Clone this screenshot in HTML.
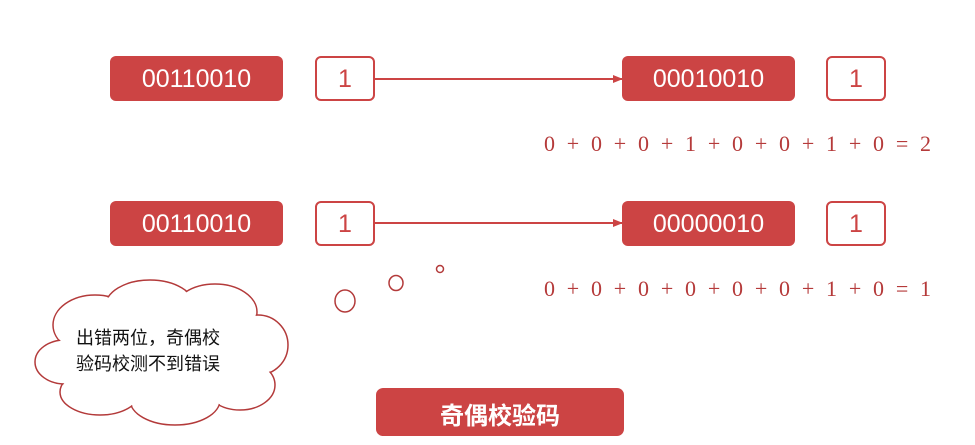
<!DOCTYPE html>
<html><head><meta charset="utf-8"><style>
body{margin:0;width:975px;height:445px;background:#fff;position:relative;overflow:hidden;font-family:"Liberation Sans","Noto Sans CJK SC",sans-serif}
.r{position:absolute;background:#cc4444;color:#fff;border-radius:6px;display:flex;align-items:center;justify-content:center;font-size:25px;padding-top:2px;box-sizing:border-box}
.w{position:absolute;border:2.5px solid #c44;border-radius:6px;box-sizing:border-box;color:#c44;display:flex;align-items:center;justify-content:center;font-size:25px;background:#fff;padding-top:2px}
.eq{position:absolute;left:544px;font-family:"Liberation Serif",serif;font-size:22px;color:#b53a3a;word-spacing:6.3px;white-space:nowrap}
</style></head><body>
<svg width="975" height="445" style="position:absolute;left:0;top:0">
<defs><marker id="a" markerWidth="10" markerHeight="8" refX="9" refY="4" orient="auto" markerUnits="userSpaceOnUse"><path d="M0,0L10,4L0,8z" fill="#c44"/></marker></defs>
<line x1="375" y1="79" x2="622" y2="79" stroke="#c44" stroke-width="2" marker-end="url(#a)"/>
<line x1="375" y1="223" x2="622" y2="223" stroke="#c44" stroke-width="2" marker-end="url(#a)"/>
<g stroke="#b33a3a" stroke-width="1.5" fill="#fff">
<g>
<ellipse cx="95" cy="325" rx="42" ry="30"/><ellipse cx="150" cy="307" rx="45" ry="27"/><ellipse cx="215" cy="312" rx="42" ry="28"/>
<ellipse cx="258" cy="345" rx="30" ry="30"/><ellipse cx="240" cy="385" rx="35" ry="25"/><ellipse cx="175" cy="400" rx="45" ry="25"/>
<ellipse cx="100" cy="392" rx="40" ry="23"/><ellipse cx="65" cy="362" rx="30" ry="22"/>
</g>
<g stroke="none"><ellipse cx="95" cy="325" rx="41" ry="29"/><ellipse cx="150" cy="307" rx="44" ry="26"/><ellipse cx="215" cy="312" rx="41" ry="27"/>
<ellipse cx="258" cy="345" rx="29" ry="29"/><ellipse cx="240" cy="385" rx="34" ry="24"/><ellipse cx="175" cy="400" rx="44" ry="24"/>
<ellipse cx="100" cy="392" rx="39" ry="22"/><ellipse cx="65" cy="362" rx="29" ry="21"/><ellipse cx="160" cy="355" rx="100" ry="45"/></g>
<ellipse cx="345" cy="301" rx="10" ry="11"/><ellipse cx="396" cy="283" rx="7" ry="7.5"/><circle cx="440" cy="269" r="3.5"/>
</g>
</svg>
<div class="r" style="left:110px;top:56px;width:173px;height:45px">00110010</div>
<div class="w" style="left:315px;top:56px;width:60px;height:45px">1</div>
<div class="r" style="left:622px;top:56px;width:173px;height:45px">00010010</div>
<div class="w" style="left:826px;top:56px;width:60px;height:45px">1</div>
<div class="eq" style="top:131px">0 + 0 + 0 + 1 + 0 + 0 + 1 + 0 = 2</div>
<div class="r" style="left:110px;top:201px;width:173px;height:45px">00110010</div>
<div class="w" style="left:315px;top:201px;width:60px;height:45px">1</div>
<div class="r" style="left:622px;top:201px;width:173px;height:45px">00000010</div>
<div class="w" style="left:826px;top:201px;width:60px;height:45px">1</div>
<div class="eq" style="top:276px">0 + 0 + 0 + 0 + 0 + 0 + 1 + 0 = 1</div>
<div style="position:absolute;left:76px;top:325px;font-size:18px;line-height:26px;color:#111">出错两位，奇偶校<br>验码校测不到错误</div>
<div class="r" style="left:376px;top:388px;width:248px;height:48px;font-size:24px;font-weight:bold;border-radius:7px">奇偶校验码</div>
</body></html>
